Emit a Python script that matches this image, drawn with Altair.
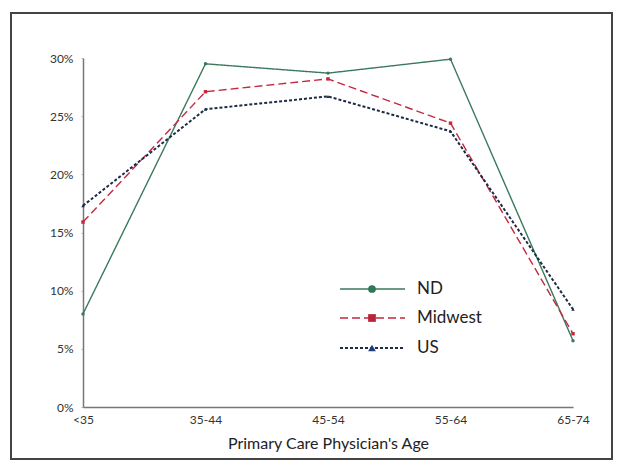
import altair as alt
import pandas as pd

ages = ["<35", "35-44", "45-54", "55-64", "65-74"]
nd = [8.0, 29.5, 28.7, 29.9, 5.7]
midwest = [15.9, 27.1, 28.2, 24.4, 6.3]
us = [17.3, 25.6, 26.7, 23.7, 8.4]

series_names = ["ND", "Midwest", "US"]
series_values = [nd, midwest, us]
colors = ["#3b7a5c", "#c4293f", "#1d2b45"]
marker_colors = ["#2e7a58", "#b8243a", "#1f3d7a"]
dashes = [[1, 0], [8, 4], [3, 2]]
shapes = ["circle", "square", "triangle-up"]
widths = [1.4, 1.4, 2.0]

FONT = "Lato"
W, H = 490, 349

rows = []
for name, vals in zip(series_names, series_values):
    for a, v in zip(ages, vals):
        rows.append({"age": a, "value": v, "series": name})
df = pd.DataFrame(rows)

x_enc = alt.X("age:N", sort=ages, scale=alt.Scale(domain=ages, padding=0),
              axis=alt.Axis(title="Primary Care Physician's Age", labelAngle=0,
                            labelFont=FONT, labelFontSize=12, labelColor="#333",
                            titleFont=FONT, titleFontSize=16, titleFontWeight="normal",
                            titleColor="#222", titlePadding=10, labelPadding=7,
                            ticks=False, domainColor="#777", domainWidth=1.5,
                            labelAlign="center"))
y_enc = alt.Y("value:Q", scale=alt.Scale(domain=[0, 30], nice=False),
              axis=alt.Axis(title=None, values=[0, 5, 10, 15, 20, 25, 30],
                            labelExpr="datum.value + '%'", labelFont=FONT,
                            labelFontSize=12, labelColor="#333", grid=False,
                            tickSize=2, tickColor="#bbb", domainColor="#777",
                            domainWidth=1.5, labelPadding=8))

layers = []
for i, name in enumerate(series_names):
    sub = df[df.series == name]
    base = alt.Chart(sub)
    layers.append(base.mark_line(color=colors[i], strokeDash=dashes[i],
                                 strokeWidth=widths[i]).encode(x=x_enc, y=y_enc))
for i, name in enumerate(series_names):
    sub = df[df.series == name]
    layers.append(alt.Chart(sub).mark_point(shape=shapes[i], filled=True, size=12,
                                            color=colors[i], opacity=1).encode(x=x_enc, y=y_enc))

# manual legend
leg_y = [231, 260, 290]
for i, name in enumerate(series_names):
    ld = pd.DataFrame({"series": [name]})
    lb = alt.Chart(ld)
    layers.append(lb.mark_rule(color=colors[i], strokeDash=dashes[i], strokeWidth=widths[i]).encode(
        x=alt.value(257), x2=alt.value(322), y=alt.value(leg_y[i])))
    layers.append(lb.mark_point(shape=shapes[i], filled=True, size=60, color=marker_colors[i],
                                opacity=1).encode(x=alt.value(289), y=alt.value(leg_y[i])))
    layers.append(lb.mark_text(align="left", baseline="middle", font=FONT, fontSize=17,
                               color="#222").encode(x=alt.value(334), y=alt.value(leg_y[i]),
                                                     text="series:N"))

# outer frame
fd = pd.DataFrame({"series": ["frame"]})
layers.append(alt.Chart(fd).mark_rect(fill=None, stroke="#444", strokeWidth=2).encode(
    x=alt.value(-72), x2=alt.value(529), y=alt.value(-45), y2=alt.value(401)))

chart = alt.layer(*layers).properties(
    width=W, height=H,
    padding={"left": 75, "top": 50, "right": 40, "bottom": 53},
    autosize=alt.AutoSizeParams(type="none"),
    background="white",
).configure_view(stroke=None)

chart.save("out.html", embed_options={"renderer": "svg", "actions": False})
